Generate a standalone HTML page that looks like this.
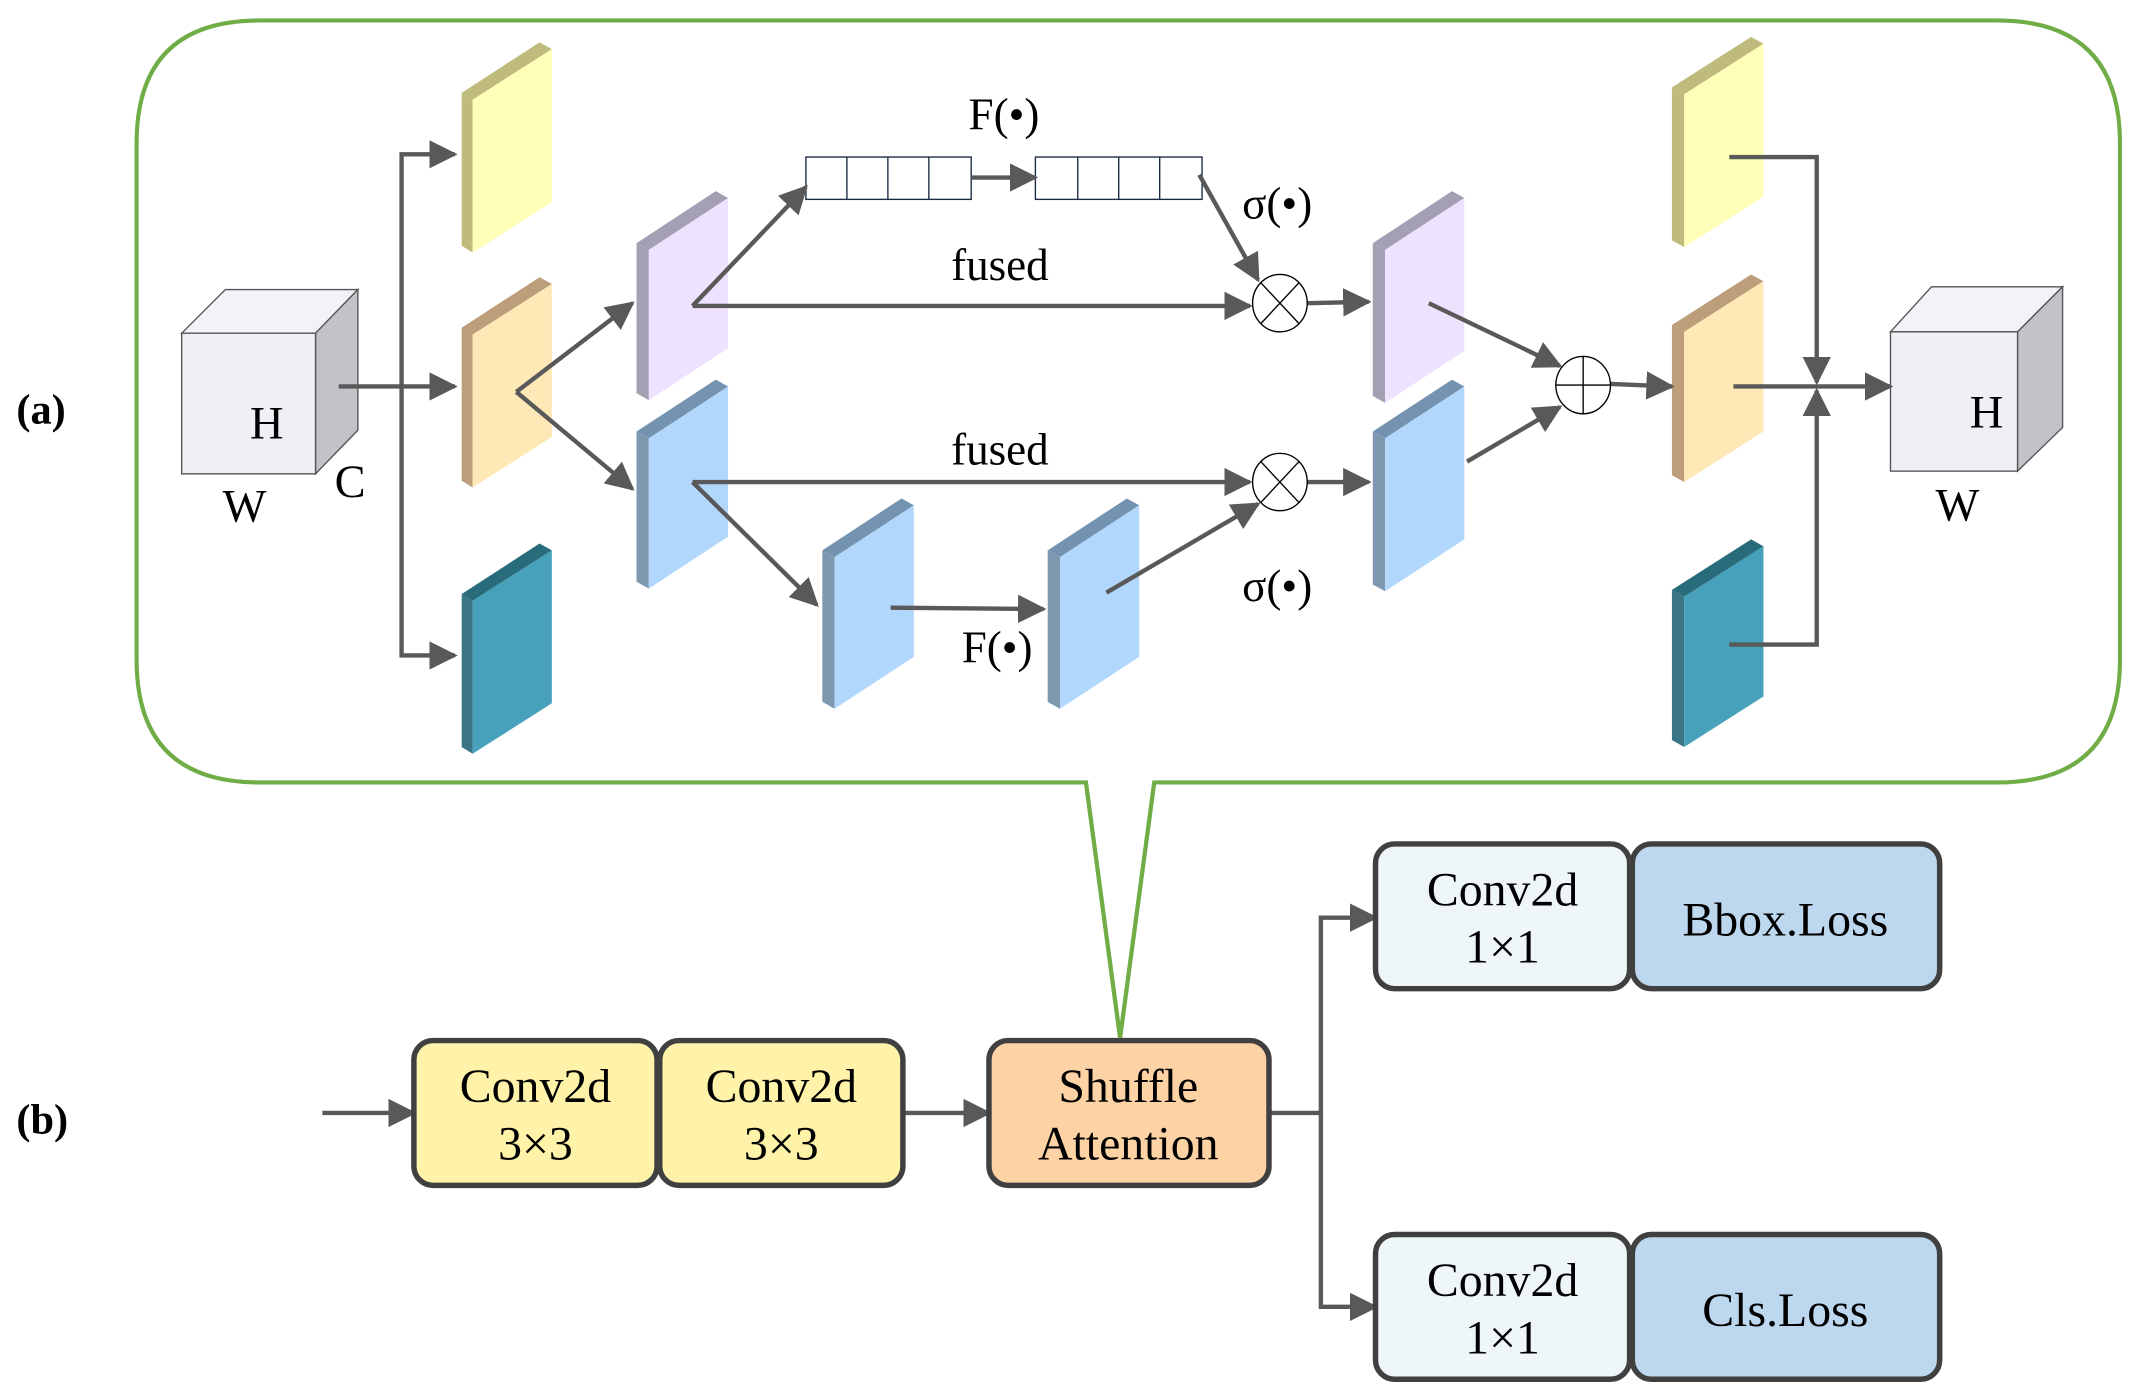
<!DOCTYPE html>
<html><head><meta charset="utf-8"><style>
html,body{margin:0;padding:0;background:#fff;}
svg{display:block;}
text{font-family:"Liberation Serif",serif;fill:#000;}
</style></head><body>
<svg width="2135" height="1397" viewBox="0 0 1563 1023" preserveAspectRatio="none" xmlns="http://www.w3.org/2000/svg">
<defs>
<marker id="ah" viewBox="0 0 10 10" refX="9" refY="5" markerWidth="6.5" markerHeight="6.5" markerUnits="strokeWidth" orient="auto">
<path d="M0,0 L10,5 L0,10 z" fill="#595959"/></marker>
</defs>
<path d="M190,15 H1462 Q1552,15 1552,105 V483 Q1552,573 1462,573 H845 L820,760 L795,573 H190 Q100,573 100,483 V105 Q100,15 190,15 Z" fill="#fff" stroke="#70ad47" stroke-width="3"/>
<text x="12" y="310" font-size="31" font-weight="bold">(a)</text>
<text x="12" y="830" font-size="31" font-weight="bold">(b)</text>

<polygon points="133,244 165,212 262,212 231,244" fill="#f4f2f8" stroke="#555" stroke-width="1"/>
<polygon points="231,244 262,212 262,315 231,347" fill="#c4c2c8" stroke="#555" stroke-width="1"/>
<rect x="133" y="244" width="98" height="103" fill="#f1eef6" stroke="#555" stroke-width="1"/>
<text x="183" y="321" font-size="34">H</text>
<text x="163" y="382" font-size="34">W</text>
<text x="245" y="364" font-size="34">C</text>

<polygon points="1384,243 1414,210 1510,210 1477,243" fill="#f4f2f8" stroke="#555" stroke-width="1"/>
<polygon points="1477,243 1510,210 1510,313 1477,345" fill="#c4c2c8" stroke="#555" stroke-width="1"/>
<rect x="1384" y="243" width="93" height="102" fill="#f1eef6" stroke="#555" stroke-width="1"/>
<text x="1442" y="313" font-size="34">H</text>
<text x="1417" y="381" font-size="34">W</text>

<g>
<polygon points="338,68 395,31 404,36 346,73" fill="#bfbb7c"/>
<polygon points="338,68 346,73 346,185 338,180" fill="#bfbb7c"/>
<polygon points="346,73 404,36 404,148 346,185" fill="#ffffb7"/>
</g>
<g>
<polygon points="338,240 395,203 404,208 346,245" fill="#bc9e7a"/>
<polygon points="338,240 346,245 346,357 338,352" fill="#bc9e7a"/>
<polygon points="346,245 404,208 404,320 346,357" fill="#fee9b6"/>
</g>
<g>
<polygon points="338,435 395,398 404,403 346,440" fill="#286b7a"/>
<polygon points="338,435 346,440 346,552 338,547" fill="#3a7585"/>
<polygon points="346,440 404,403 404,515 346,552" fill="#47a1bb"/>
</g>
<g>
<polygon points="466,178 524,140 533,145 475,183" fill="#a59fb4"/>
<polygon points="466,178 475,183 475,293 466,288" fill="#a59fb4"/>
<polygon points="475,183 533,145 533,255 475,293" fill="#ede3fe"/>
</g>
<g>
<polygon points="466,316 524,278 533,283 475,321" fill="#7393b0"/>
<polygon points="466,316 475,321 475,431 466,426" fill="#7e98b0"/>
<polygon points="475,321 533,283 533,393 475,431" fill="#b1d7fc"/>
</g>
<g>
<polygon points="602,403 660,365 669,370 611,408" fill="#7393b0"/>
<polygon points="602,403 611,408 611,519 602,514" fill="#7e98b0"/>
<polygon points="611,408 669,370 669,481 611,519" fill="#b1d7fc"/>
</g>
<g>
<polygon points="767,403 825,365 834,370 776,408" fill="#7393b0"/>
<polygon points="767,403 776,408 776,519 767,514" fill="#7e98b0"/>
<polygon points="776,408 834,370 834,481 776,519" fill="#b1d7fc"/>
</g>
<g>
<polygon points="1005,178 1063,140 1072,145 1014,183" fill="#a59fb4"/>
<polygon points="1005,178 1014,183 1014,295 1005,290" fill="#a59fb4"/>
<polygon points="1014,183 1072,145 1072,257 1014,295" fill="#ede3fe"/>
</g>
<g>
<polygon points="1005,316 1063,278 1072,283 1014,321" fill="#7393b0"/>
<polygon points="1005,316 1014,321 1014,433 1005,428" fill="#7e98b0"/>
<polygon points="1014,321 1072,283 1072,395 1014,433" fill="#b1d7fc"/>
</g>
<g>
<polygon points="1224,64 1282,27 1291,32 1233,69" fill="#bfbb7c"/>
<polygon points="1224,64 1233,69 1233,181 1224,176" fill="#bfbb7c"/>
<polygon points="1233,69 1291,32 1291,144 1233,181" fill="#ffffb7"/>
</g>
<g>
<polygon points="1224,238 1282,201 1291,206 1233,243" fill="#bc9e7a"/>
<polygon points="1224,238 1233,243 1233,353 1224,348" fill="#bc9e7a"/>
<polygon points="1233,243 1291,206 1291,316 1233,353" fill="#fee9b6"/>
</g>
<g>
<polygon points="1224,432 1282,395 1291,400 1233,437" fill="#286b7a"/>
<polygon points="1224,432 1233,437 1233,547 1224,542" fill="#3a7585"/>
<polygon points="1233,437 1291,400 1291,510 1233,547" fill="#47a1bb"/>
</g>

<g fill="#fff" stroke="#1a2a44" stroke-width="1">
<rect x="590" y="115" width="121" height="31"/>
<line x1="620" y1="115" x2="620" y2="146"/><line x1="650" y1="115" x2="650" y2="146"/><line x1="680" y1="115" x2="680" y2="146"/>
<rect x="758" y="115" width="122" height="31"/>
<line x1="789" y1="115" x2="789" y2="146"/><line x1="819" y1="115" x2="819" y2="146"/><line x1="849" y1="115" x2="849" y2="146"/>
</g>

<g stroke="#595959" stroke-width="3.2" fill="none" marker-end="url(#ah)">
<path d="M248,283 H333"/>
<path d="M294,283 V113 H333"/>
<path d="M294,283 V480 H333"/>
<path d="M378,287 L463,222"/>
<path d="M378,287 L463,358"/>
<path d="M507,224 L590,137"/>
<path d="M507,224 L915,224"/>
<path d="M711,130 L758,130"/>
<path d="M878,128 L921,205"/>
<path d="M957,222 L1002,221"/>
<path d="M507,353 L915,353"/>
<path d="M507,353 L598,443"/>
<path d="M652,445 L764,446"/>
<path d="M810,434 L921,369"/>
<path d="M957,353 L1002,353"/>
<path d="M1046,222 L1142,268"/>
<path d="M1074,338 L1142,298"/>
<path d="M1175,281 L1224,283"/>
<path d="M1266,115 H1330 V280"/>
<path d="M1266,472 H1330 V286"/>
<path d="M1269,283 H1384"/>
</g>
<g fill="#fff" stroke="#000" stroke-width="1">
<ellipse cx="937" cy="222" rx="20" ry="21"/>
<line x1="923" y1="207" x2="951" y2="237"/><line x1="951" y1="207" x2="923" y2="237"/>
<ellipse cx="937" cy="353" rx="20" ry="21"/>
<line x1="923" y1="338" x2="951" y2="368"/><line x1="951" y1="338" x2="923" y2="368"/>
<ellipse cx="1159" cy="282" rx="20" ry="21"/>
<line x1="1139" y1="282" x2="1179" y2="282"/><line x1="1159" y1="261" x2="1159" y2="303"/>
</g>
<g font-size="33" text-anchor="middle">
<text x="735" y="95">F(•)</text>
<text x="935" y="160">σ(•)</text>
<text x="732" y="205">fused</text>
<text x="732" y="340">fused</text>
<text x="730" y="485">F(•)</text>
<text x="935" y="440">σ(•)</text>
</g>

<g stroke="#595959" stroke-width="3.2" fill="none" marker-end="url(#ah)">
<path d="M236,815 H303"/>
<path d="M661,815 H724"/>
<path d="M929,815 H967 V672 H1007"/>
<path d="M967,815 V957 H1007"/>
</g>
<g stroke="#404040" stroke-width="4">
<rect x="303" y="762" width="178" height="106" rx="14" fill="#fef3a8"/>
<rect x="483" y="762" width="178" height="106" rx="14" fill="#fef3a8"/>
<rect x="724" y="762" width="205" height="106" rx="14" fill="#fdd3a6"/>
<rect x="1007" y="618" width="186" height="106" rx="14" fill="#eef6fa"/>
<rect x="1195" y="618" width="225" height="106" rx="14" fill="#bdd7ee"/>
<rect x="1007" y="904" width="186" height="106" rx="14" fill="#eef6fa"/>
<rect x="1195" y="904" width="225" height="106" rx="14" fill="#bdd7ee"/>
</g>
<g font-size="35" text-anchor="middle">
<text x="392" y="807">Conv2d</text><text x="392" y="849">3×3</text>
<text x="572" y="807">Conv2d</text><text x="572" y="849">3×3</text>
<text x="826" y="807">Shuffle</text><text x="826" y="849">Attention</text>
<text x="1100" y="663">Conv2d</text><text x="1100" y="705">1×1</text>
<text x="1307" y="685">Bbox.Loss</text>
<text x="1100" y="949">Conv2d</text><text x="1100" y="991">1×1</text>
<text x="1307" y="971">Cls.Loss</text>
</g>
<path d="M795,573 L820,760 L845,573" fill="none" stroke="#70ad47" stroke-width="3"/>
</svg>
</body></html>
